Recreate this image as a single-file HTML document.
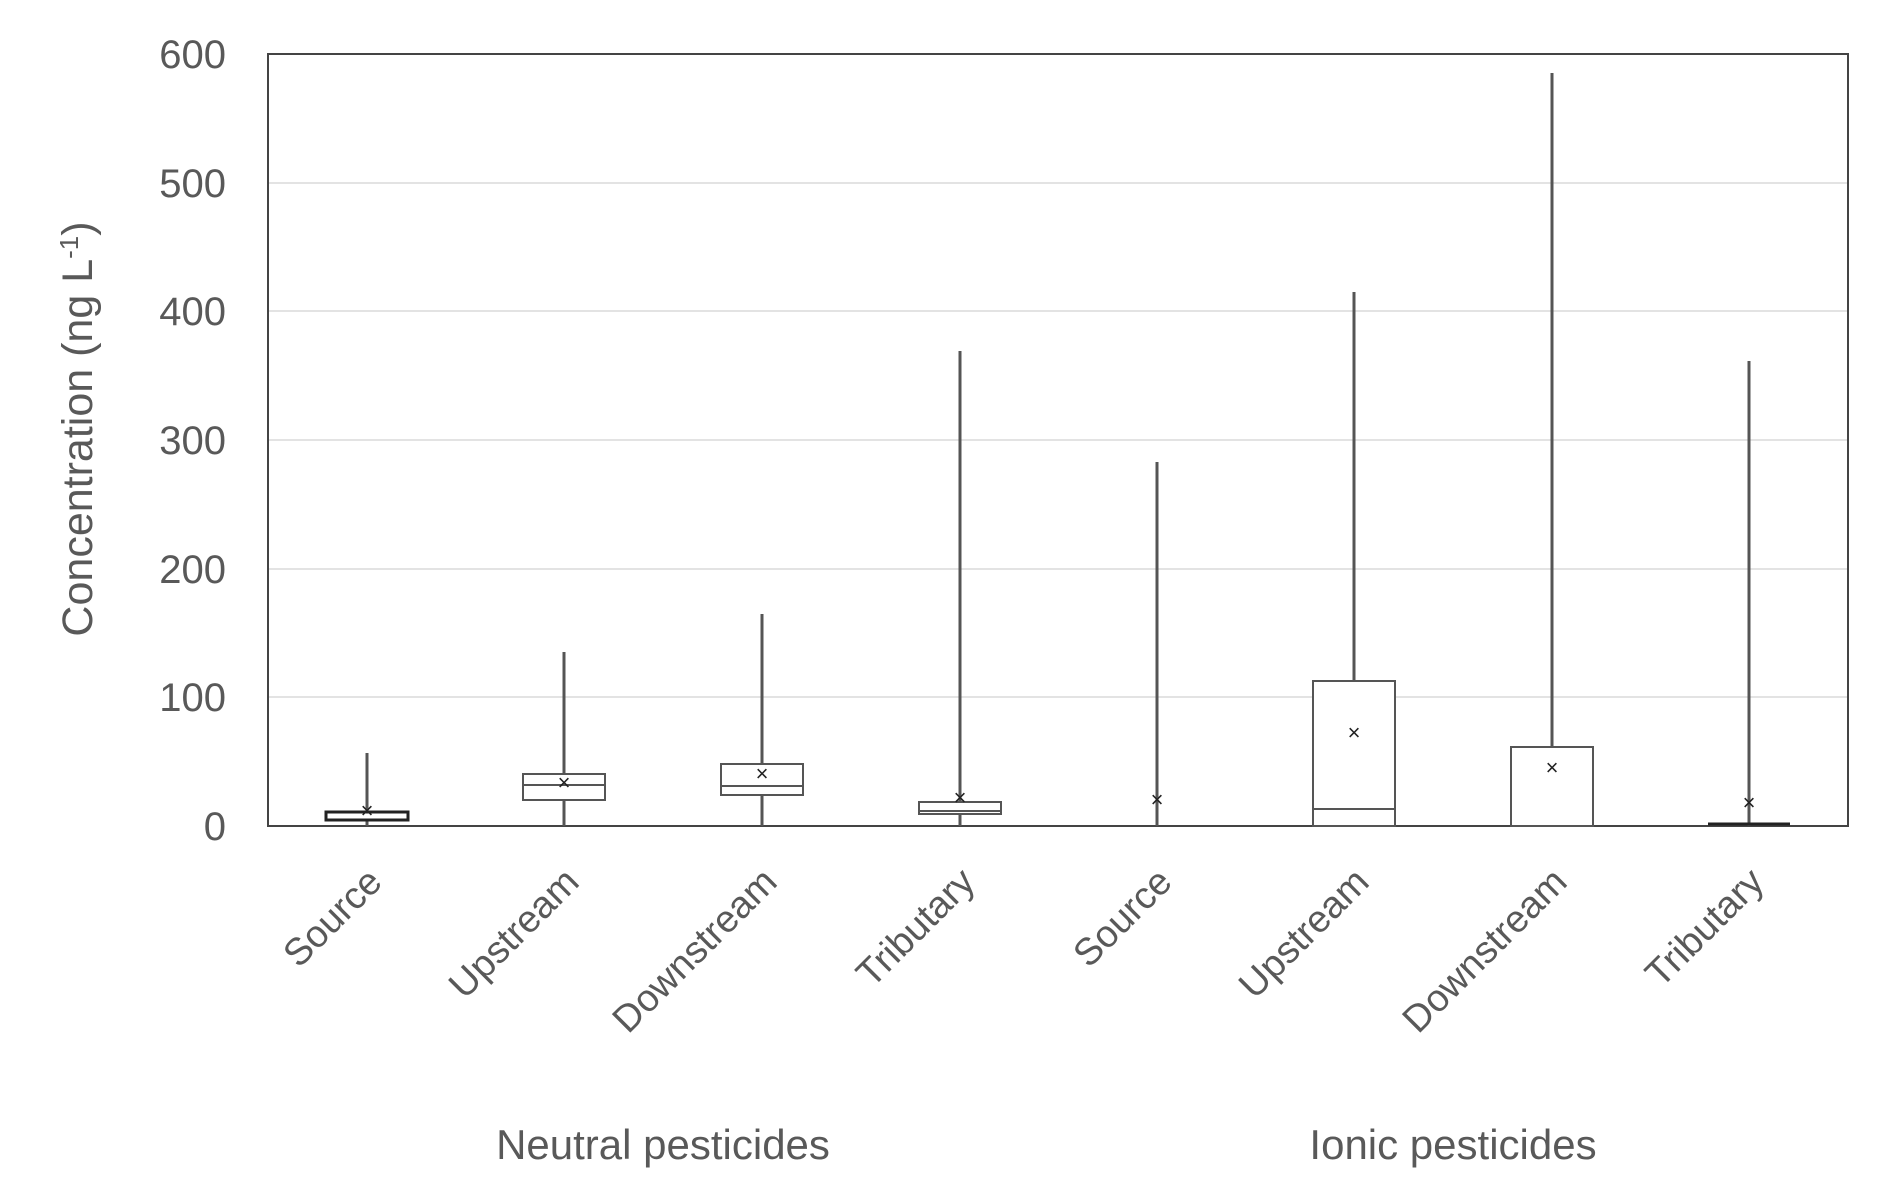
<!DOCTYPE html>
<html><head><style>body{margin:0;background:#fff}</style></head><body>
<svg width="1894" height="1188" xmlns="http://www.w3.org/2000/svg" font-family="Liberation Sans, sans-serif">
<rect width="1894" height="1188" fill="#fff"/>
<g stroke="#e3e3e3" stroke-width="2">
<line x1="268" x2="1848" y1="183" y2="183"/><line x1="268" x2="1848" y1="311" y2="311"/>
<line x1="268" x2="1848" y1="440" y2="440"/><line x1="268" x2="1848" y1="569" y2="569"/>
<line x1="268" x2="1848" y1="697" y2="697"/>
</g>
<rect x="268" y="54" width="1580" height="772" fill="none" stroke="#444" stroke-width="2"/>
<g fill="#595959" font-size="40" text-anchor="end">
<text x="226" y="68">600</text><text x="226" y="197">500</text><text x="226" y="325">400</text>
<text x="226" y="454">300</text><text x="226" y="583">200</text><text x="226" y="711">100</text>
<text x="226" y="840">0</text>
</g>
<text transform="translate(92,429) rotate(-90)" text-anchor="middle" fill="#595959" font-size="43">Concentration (ng L<tspan dy="-14" font-size="26">-1</tspan><tspan dy="14">)</tspan></text>
<g stroke="#555" stroke-width="2" fill="none">
<line x1="367" x2="367" y1="753" y2="826" stroke-width="3"/><rect x="326" y="812" width="82" height="8" stroke="#222" stroke-width="3" fill="#fff"/>
<line x1="564" x2="564" y1="652" y2="826" stroke-width="3"/><rect x="523" y="774" width="82" height="26" fill="#fff"/><line x1="523" x2="605" y1="785" y2="785"/>
<line x1="762" x2="762" y1="614" y2="826" stroke-width="3"/><rect x="721" y="764" width="82" height="31" fill="#fff"/><line x1="721" x2="803" y1="786" y2="786"/>
<line x1="960" x2="960" y1="351" y2="826" stroke-width="3"/><rect x="919" y="802" width="82" height="12" fill="#fff"/><line x1="919" x2="1001" y1="811" y2="811"/>
<line x1="1157" x2="1157" y1="462" y2="826" stroke-width="3"/>
<line x1="1354" x2="1354" y1="292" y2="826" stroke-width="3"/><rect x="1313" y="681" width="82" height="145" fill="#fff"/><line x1="1313" x2="1395" y1="809" y2="809"/>
<line x1="1552" x2="1552" y1="73" y2="826" stroke-width="3"/><rect x="1511" y="747" width="82" height="79" fill="#fff"/>
<line x1="1749" x2="1749" y1="361" y2="826" stroke-width="3"/><line x1="1708" x2="1790" y1="824" y2="824" stroke="#222" stroke-width="3"/>
</g>
<g fill="#222" font-size="22" text-anchor="middle">
<text x="367" y="818">×</text><text x="564" y="790">×</text><text x="762" y="781">×</text><text x="960" y="805">×</text>
<text x="1157" y="807">×</text><text x="1354" y="740">×</text><text x="1552" y="775">×</text><text x="1749" y="810">×</text>
</g>
<g fill="#595959" font-size="38" text-anchor="end">
<text transform="translate(384,884) rotate(-45)">Source</text>
<text transform="translate(581,884) rotate(-45)">Upstream</text>
<text transform="translate(779,884) rotate(-45)">Downstream</text>
<text transform="translate(977,884) rotate(-45)">Tributary</text>
<text transform="translate(1174,884) rotate(-45)">Source</text>
<text transform="translate(1371,884) rotate(-45)">Upstream</text>
<text transform="translate(1569,884) rotate(-45)">Downstream</text>
<text transform="translate(1766,884) rotate(-45)">Tributary</text>
</g>
<g fill="#595959" font-size="42" text-anchor="middle">
<text x="663" y="1159">Neutral pesticides</text>
<text x="1453" y="1159">Ionic pesticides</text>
</g>
</svg>
</body></html>
